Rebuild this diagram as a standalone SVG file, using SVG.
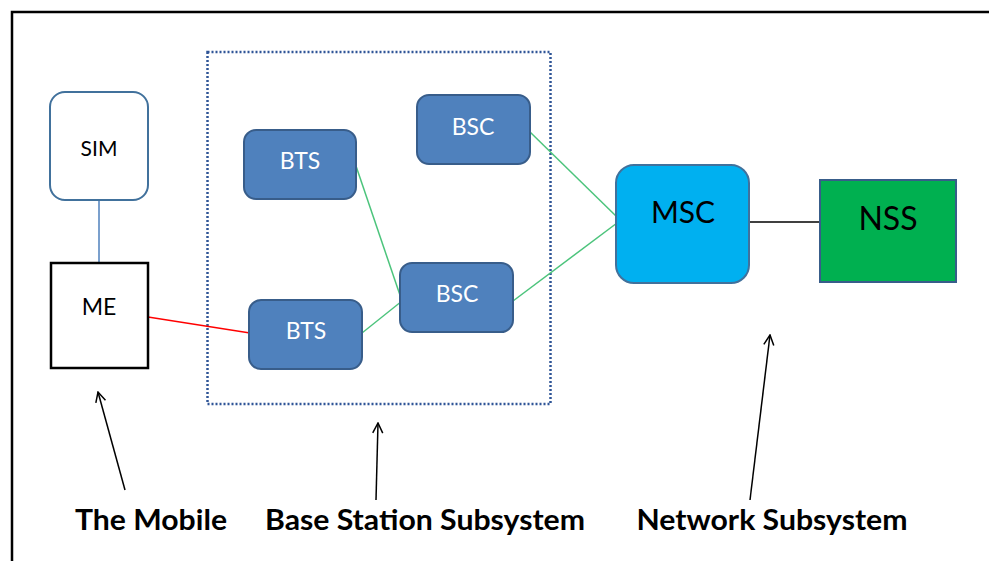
<svg xmlns="http://www.w3.org/2000/svg" width="989" height="561" viewBox="0 0 989 561">
<defs>
<style>
.blue{fill:#4F81BD;stroke:#385D8A;stroke-width:2}
.wt{font-family:Lato,"Open Sans","Liberation Sans",sans-serif;fill:#fff;font-size:23px;text-anchor:middle}
.bt{font-family:Lato,"Open Sans","Liberation Sans",sans-serif;fill:#000;text-anchor:middle}
.lbl{font-family:Lato,"Open Sans","Liberation Sans",sans-serif;fill:#000;font-weight:bold;font-size:28px;text-anchor:middle}
.g{stroke:#4CC47C;stroke-width:1.5;fill:none}
.arr{stroke:#000;stroke-width:1.5;fill:none;marker-end:url(#open)}
</style>
<marker id="open" viewBox="0 0 12 12" refX="11" refY="6" markerWidth="12" markerHeight="12" markerUnits="userSpaceOnUse" orient="auto">
<path d="M1,1 L11,6 L1,11" fill="none" stroke="#000" stroke-width="1.5"/>
</marker>
</defs>
<rect width="989" height="561" fill="#fff"/>
<rect x="12" y="12" width="1000" height="600" fill="none" stroke="#000" stroke-width="2.5"/>
<rect x="207.5" y="52" width="343" height="352" fill="none" stroke="#2F5597" stroke-width="2.5" stroke-dasharray="2 2"/>
<g id="connectors">
<line x1="99" y1="200" x2="99" y2="263" stroke="#4F81BD" stroke-width="1.5"/>
<line x1="148" y1="317" x2="250" y2="333" stroke="#FF0000" stroke-width="1.5"/>
<line class="g" x1="356" y1="166" x2="402" y2="301"/>
<line class="g" x1="362" y1="333" x2="402" y2="301"/>
<line class="g" x1="530" y1="132" x2="617" y2="217"/>
<line class="g" x1="513" y1="301" x2="617" y2="223"/>
<line x1="749" y1="222" x2="821" y2="222" stroke="#000" stroke-width="1.5"/>
<line class="arr" x1="125" y1="490" x2="98" y2="392"/>
<line class="arr" x1="376" y1="500" x2="378" y2="423"/>
<line class="arr" x1="750" y1="500" x2="770" y2="335"/>
</g>
<g id="sim">
<rect x="50" y="92" width="98" height="108" rx="15" fill="#fff" stroke="#41719C" stroke-width="2"/>
<text class="bt" x="99" y="156" font-size="21">SIM</text>
</g>
<g id="me">
<rect x="51" y="263" width="97" height="105" fill="#fff" stroke="#000" stroke-width="2.5"/>
<text class="bt" x="99" y="315" font-size="23">ME</text>
</g>
<g id="bts1">
<rect class="blue" x="244" y="130" width="112" height="69" rx="12"/>
<text class="wt" x="300" y="169">BTS</text>
</g>
<g id="bsc1">
<rect class="blue" x="417" y="95" width="113" height="69" rx="12"/>
<text class="wt" x="473" y="135">BSC</text>
</g>
<g id="bsc2">
<rect class="blue" x="400" y="263" width="113" height="69" rx="12"/>
<text class="wt" x="457" y="302">BSC</text>
</g>
<g id="bts2">
<rect class="blue" x="249" y="300" width="113" height="69" rx="12"/>
<text class="wt" x="306" y="339">BTS</text>
</g>
<g id="msc">
<rect x="616" y="165" width="133" height="118" rx="18" fill="#00B0F0" stroke="#41719C" stroke-width="2"/>
<text class="bt" x="683" y="223" font-size="30">MSC</text>
</g>
<g id="nss">
<rect x="820" y="180" width="136" height="102" fill="#00B050" stroke="#385D8A" stroke-width="2"/>
<text class="bt" x="888" y="230" font-size="32">NSS</text>
</g>
<g id="labels">
<text class="lbl" x="151" y="530" textLength="152" lengthAdjust="spacingAndGlyphs">The Mobile</text>
<text class="lbl" x="425" y="530" textLength="320" lengthAdjust="spacingAndGlyphs">Base Station Subsystem</text>
<text class="lbl" x="772" y="530" textLength="271" lengthAdjust="spacingAndGlyphs">Network Subsystem</text>
</g>
</svg>
